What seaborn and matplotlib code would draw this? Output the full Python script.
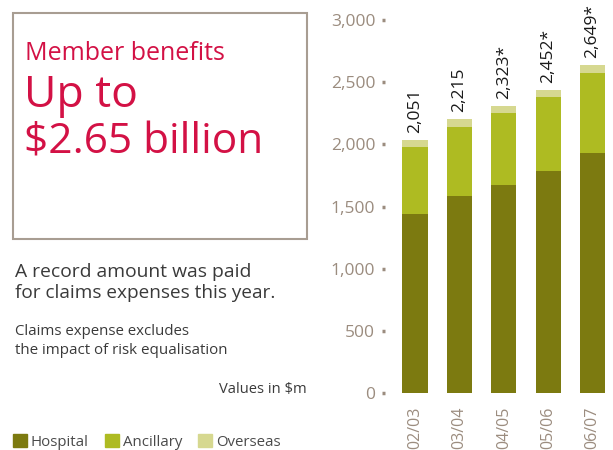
import numpy as np
import pandas as pd
import matplotlib
matplotlib.use('Agg')
import matplotlib.pyplot as plt
from matplotlib.patches import Rectangle, Patch
import seaborn as sns

# ---------- DATA ----------
years = ['02/03', '03/04', '04/05', '05/06', '06/07']
hospital = [1440, 1585, 1672, 1785, 1930]
ancillary = [540, 555, 580, 595, 645]
overseas = [56, 62, 56, 56, 64]
total_labels = ['2,051', '2,215', '2,323*', '2,452*', '2,649*']
y_ticks = [0, 500, 1000, 1500, 2000, 2500, 3000]

# ---------- STYLE ----------
sns.set_style('white')
plt.rcParams['font.family'] = ['Open Sans', 'DejaVu Sans']

c_hosp = '#7c7a10'
c_anc = '#aebb22'
c_over = '#d6d890'
c_tick = '#9b8c7f'
c_text = '#3a3a3a'
c_red = '#d31145'

df = pd.DataFrame({'year': years, 'hospital': hospital,
                   'ancillary': ancillary, 'overseas': overseas})
df['h_a'] = df['hospital'] + df['ancillary']
df['total'] = df['h_a'] + df['overseas']

W, H = 613, 450
fig = plt.figure(figsize=(W / 100, H / 100), dpi=100)

# left panel (pixel coordinates)
axl = fig.add_axes([0, 0, 1, 1])
axl.set_xlim(0, W)
axl.set_ylim(H, 0)
axl.axis('off')
axl.add_patch(Rectangle((13, 13), 294, 226, fill=False, edgecolor='#a89d92', lw=1.5))
axl.text(25, 60, 'Member benefits', color=c_red, fontsize=18, va='baseline')
axl.text(24, 107, 'Up to', color=c_red, fontsize=32, va='baseline')
axl.text(24, 154, '$2.65 billion', color=c_red, fontsize=30.5, va='baseline')
axl.text(15, 277, 'A record amount was paid', color=c_text, fontsize=13.9, va='baseline')
axl.text(15, 298, 'for claims expenses this year.', color=c_text, fontsize=13.7, va='baseline')
axl.text(15, 335, 'Claims expense excludes', color=c_text, fontsize=10.8, va='baseline')
axl.text(15, 354, 'the impact of risk equalisation', color=c_text, fontsize=10.9, va='baseline')
axl.text(307, 393, 'Values in $m', color=c_text, fontsize=10.6, va='baseline', ha='right')

# bar chart
ax = fig.add_axes([385 / W, 57 / H, (W - 385) / W, 393 / H])
for col, c in [('total', c_over), ('h_a', c_anc), ('hospital', c_hosp)]:
    sns.barplot(data=df, x='year', y=col, color=c, width=0.565,
                saturation=1, linewidth=0, ax=ax)

for i, (tot, lab) in enumerate(zip(df['total'], total_labels)):
    ax.annotate(lab, (i, tot), xytext=(0, 5), textcoords='offset points',
                rotation=90, ha='center', va='bottom', fontsize=12.5, color='#1a1a1a')

ax.set_xlim(-0.676, 4.46)
ax.set_ylim(0, 3161)
ax.set_yticks(y_ticks)
ax.set_yticklabels([f'{v:,}' for v in y_ticks])
ax.tick_params(axis='y', length=2, width=2.5, color=c_tick, labelcolor=c_tick,
               labelsize=12.5, pad=5, left=True)
ax.tick_params(axis='x', length=0, labelcolor=c_tick, labelsize=11.5, pad=10,
               labelrotation=90)
ax.set_xlabel('')
ax.set_ylabel('')
for s in ax.spines.values():
    s.set_visible(False)
ax.set_facecolor('none')

handles = [Patch(color=c_hosp, label='Hospital'),
           Patch(color=c_anc, label='Ancillary'),
           Patch(color=c_over, label='Overseas')]
fig.legend(handles=handles, loc='center left', bbox_to_anchor=(13 / W, 1 - 442 / H),
           ncol=3, frameon=False, handlelength=0.95, handleheight=0.95,
           handletextpad=0.25, columnspacing=1.05, fontsize=10.8,
           labelcolor='#4a4a4a', borderaxespad=0, borderpad=0)

fig.savefig('out.png', dpi=100)
